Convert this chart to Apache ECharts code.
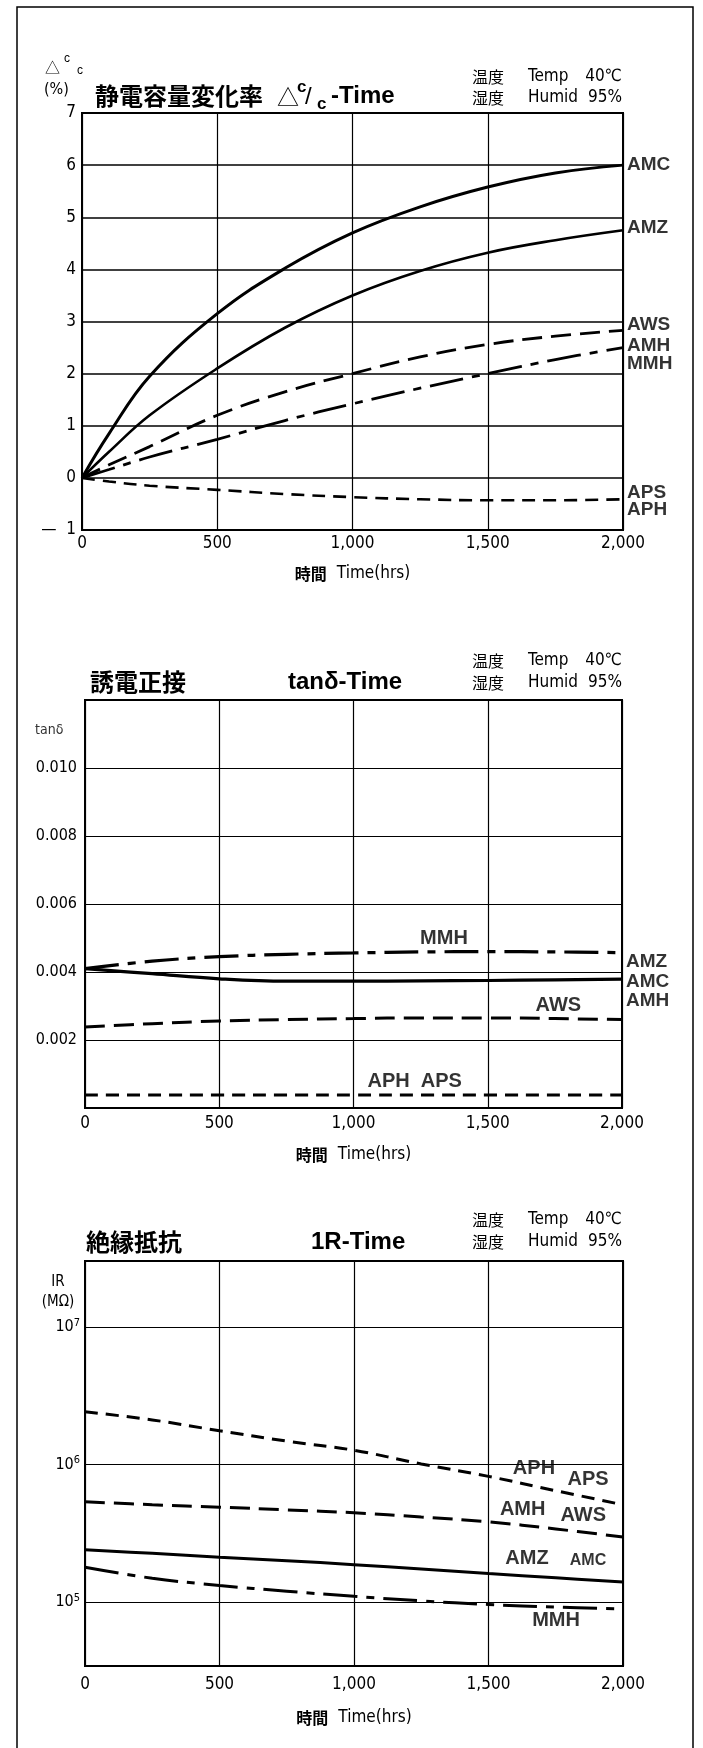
<!DOCTYPE html>
<html><head><meta charset="utf-8">
<script src="https://cdn.jsdelivr.net/npm/echarts@6/dist/echarts.min.js"></script>
<style>html,body{margin:0;padding:0;background:#fff}#c{width:703px;height:1748px}</style>
</head><body><div id="c"></div>
<script>
// ---------- shared ----------
const xTickLabels = ['0', '500', '1,000', '1,500', '2,000'];

// ---------- chart 1: capacitance change (%) ----------
const hours1 = [0, 100, 250, 500, 750, 1000, 1250, 1500, 1750, 2000];
const cap_AMC = [0, 0.85, 1.95, 3.15, 4.02, 4.7, 5.2, 5.58, 5.85, 6.0];
const cap_AMZ = [0, 0.5, 1.2, 2.1, 2.88, 3.5, 3.97, 4.32, 4.56, 4.75];
const cap_AWS = [0, 0.25, 0.6, 1.2, 1.65, 2.0, 2.32, 2.56, 2.72, 2.83];
const cap_AMH_MMH = [0, 0.16, 0.4, 0.74, 1.1, 1.42, 1.72, 2.0, 2.27, 2.5];
const cap_APS_APH = [0, -0.07, -0.15, -0.23, -0.31, -0.37, -0.41, -0.43, -0.43, -0.41];
const cap_labels = [[2000, 6.0, 'AMC'], [2000, 4.79, 'AMZ'], [2000, 2.94, 'AWS'], [2000, 2.53, 'AMH'],
                    [2000, 2.19, 'MMH'], [2000, -0.28, 'APS'], [2000, -0.62, 'APH']];

// ---------- chart 2: tan delta ----------
const hours2 = [0, 250, 500, 750, 1000, 1250, 1500, 1750, 2000];
const tan_MMH = [0.0041, 0.00432, 0.00445, 0.00452, 0.00456, 0.00459, 0.0046, 0.00459, 0.00457];
const tan_AMC = [0.0041, 0.00395, 0.0038, 0.00373, 0.00373, 0.00374, 0.00375, 0.00377, 0.00379];
const tan_AWS = [0.00238, 0.00248, 0.00256, 0.0026, 0.00263, 0.00265, 0.00265, 0.00263, 0.0026];
const tan_APH = [0.00038, 0.00038, 0.00038, 0.00038, 0.00038, 0.00038, 0.00038, 0.00038, 0.00038];
const tan_labelsRight = [[2000, 0.0043, 'AMZ'], [2000, 0.0037, 'AMC'], [2000, 0.00314, 'AMH']];
const tan_labelsIn = [[1337, 0.0050, 'MMH'], [1763, 0.00302, 'AWS'], [1228, 0.00078, 'APH  APS']];

// ---------- chart 3: insulation resistance (MΩ) ----------
const hours3 = [0, 250, 500, 750, 1000, 1250, 1500, 1750, 2000];
const ir_APH = [2.42e6, 2.11e6, 1.76e6, 1.48e6, 1.27e6, 1.01e6, 8.2e5, 6.45e5, 5.1e5];
const ir_AMH = [5.36e5, 5.1e5, 4.9e5, 4.68e5, 4.46e5, 4.15e5, 3.83e5, 3.4e5, 2.97e5];
const ir_AMZ = [2.4e5, 2.26e5, 2.12e5, 2.0e5, 1.87e5, 1.74e5, 1.61e5, 1.5e5, 1.4e5];
const ir_MMH = [1.79e5, 1.49e5, 1.32e5, 1.2e5, 1.1e5, 1.02e5, 9.6e4, 9.2e4, 8.9e4];
const ir_labels = [[1669, 9.35e5, 'APH'], [1870, 7.83e5, 'APS'], [1627, 4.68e5, 'AMH'], [1852, 4.27e5, 'AWS'],
                   [1643, 2.09e5, 'AMZ'], [1751, 7.3e4, 'MMH']];
const ir_labelsSmall = [[1870, 2.0e5, 'AMC']];

// ---------- styles ----------
const NARROW = '"Liberation Sans Narrow","DejaVu Sans Condensed","Liberation Sans",sans-serif';
const BOLD = '"Liberation Sans",Arial,sans-serif';
const CJK = '"Noto Sans CJK JP",sans-serif';
const DASH_LONG = [20, 9];
const DASH_SHORT = [13, 8];
const DASH_DOT = [34, 9, 8, 9];

function zip(xs, ys) { return xs.map((x, i) => [x, ys[i]]); }

function lineSeries(idx, xs, ys, dash, width) {
  return {
    type: 'line', xAxisIndex: idx, yAxisIndex: idx, data: zip(xs, ys),
    showSymbol: false, smooth: 0.4, silent: true,
    lineStyle: { color: '#000', width: width || 2.8, type: dash || 'solid' },
    z: 5
  };
}
function labelSeries(idx, data, pos, size, bg) {
  return {
    type: 'scatter', xAxisIndex: idx, yAxisIndex: idx, data: data, symbolSize: 0, silent: true,
    label: {
      show: true, position: pos, distance: 4, formatter: p => p.value[2],
      fontFamily: BOLD, fontWeight: 'bold', fontSize: size || 17, color: '#000',
      textBorderWidth: 0,
      backgroundColor: bg || 'transparent', padding: bg ? [0, 2] : 0
    },
    z: 10
  };
}
function xAxisCfg(idx, margin, nameGap) {
  return {
    type: 'value', gridIndex: idx, min: 0, max: 2000, interval: 500,
    axisLine: { show: false }, axisTick: { show: false },
    splitLine: { show: true, lineStyle: { color: '#000', width: 1.2 } },
    axisLabel: { margin: margin, fontFamily: NARROW, fontSize: 17, color: '#000',
                 formatter: v => xTickLabels[Math.round(v / 500)] },
    name: '{j|時間}   {e|Time(hrs)}', nameLocation: 'middle', nameGap: nameGap,
    nameTextStyle: { rich: { j: { fontFamily: CJK, fontSize: 16, fontWeight: 'bold', color: '#000' },
                              e: { fontFamily: NARROW, fontSize: 17, color: '#000' } } }
  };
}

const chart = echarts.init(document.getElementById('c'), null, { renderer: 'canvas' });

function txt(x, y, text, size, family, weight, align, color) {
  return { type: 'text', x: x, y: y, silent: true, z: 20,
    style: { text: text, fontSize: size, fontFamily: family, fontWeight: weight || 'normal',
             fill: color || '#000', align: align || 'left', verticalAlign: 'middle' } };
}
function header(y1, y2) {
  return [
    txt(472, y1, '温度', 16, CJK), txt(528, y1, 'Temp', 17, NARROW), txt(622, y1, '40℃', 17, NARROW, 'normal', 'right'),
    txt(472, y2, '湿度', 16, CJK), txt(528, y2, 'Humid', 17, NARROW), txt(622, y2, '95%', 17, NARROW, 'normal', 'right')
  ];
}

const graphics = [
  { type: 'rect', silent: true, z: 0, shape: { x: 17, y: 7, width: 676, height: 1800 },
    style: { fill: 'none', stroke: '#000', lineWidth: 1.5 } },
  // chart 1 titles
  txt(95, 96, '静電容量変化率', 24, CJK, 'bold'),
  txt(277, 97, '△', 22, CJK),
  txt(297, 87, 'c', 17, BOLD, 'bold'),
  txt(305, 97, '/', 24, BOLD),
  txt(317, 104, 'c', 17, BOLD, 'bold'),
  txt(331, 96, '-Time', 24, BOLD, 'bold'),
  txt(45, 67, '△', 15, CJK),
  txt(64, 59, 'c', 12, BOLD),
  txt(77, 71, 'c', 12, BOLD),
  txt(44, 90, '(%)', 16, NARROW),
  ...header(77, 98),
  // chart 2 titles
  txt(90, 682, '誘電正接', 24, CJK, 'bold'),
  txt(288, 682, 'tanδ-Time', 24, BOLD, 'bold'),
  txt(35, 730, 'tanδ', 14, NARROW, 'normal', 'left', '#333'),
  ...header(661, 683),
  // chart 3 titles
  txt(86, 1242, '絶縁抵抗', 24, CJK, 'bold'),
  txt(311, 1242, '1R-Time', 24, BOLD, 'bold'),
  txt(58, 1282, 'IR', 15, NARROW, 'normal', 'center'),
  txt(58, 1302, '(MΩ)', 15, NARROW, 'normal', 'center'),
  ...header(1220, 1242)
];

const option = {
  animation: false,
  backgroundColor: '#fff',
  grid: [
    { left: 82, top: 113, width: 541, height: 417, show: true, borderColor: '#000', borderWidth: 2, backgroundColor: 'transparent' },
    { left: 85, top: 700, width: 537, height: 408, show: true, borderColor: '#000', borderWidth: 2, backgroundColor: 'transparent' },
    { left: 85, top: 1261, width: 538, height: 405, show: true, borderColor: '#000', borderWidth: 2, backgroundColor: 'transparent' }
  ],
  xAxis: [xAxisCfg(0, 5, 35), xAxisCfg(1, 7, 38), xAxisCfg(2, 10, 43)],
  yAxis: [
    { type: 'value', gridIndex: 0, min: -1, max: 7, interval: 1,
      axisLine: { show: false }, axisTick: { show: false },
      splitLine: { show: true, lineStyle: { color: '#000', width: 1.6 } },
      axisLabel: { margin: 6, fontFamily: NARROW, fontSize: 17, color: '#000',
                   formatter: v => v < 0 ? '—  ' + Math.abs(v) : String(v) } },
    { type: 'value', gridIndex: 1, min: 0, max: 0.012, interval: 0.002,
      axisLine: { show: false }, axisTick: { show: false },
      splitLine: { show: true, lineStyle: { color: '#000', width: 1.2 } },
      axisLabel: { margin: 8, fontFamily: NARROW, fontSize: 16, color: '#000',
                   formatter: v => (v <= 0 || v >= 0.0119) ? '' : v.toFixed(3) } },
    { type: 'log', gridIndex: 2, logBase: 10, min: 34277, max: 3.02e7,
      axisLine: { show: false }, axisTick: { show: false },
      splitLine: { show: true, lineStyle: { color: '#000', width: 1.2 } },
      axisLabel: { margin: 5, color: '#000',
        formatter: v => { const e = Math.log10(v); return Math.abs(e - Math.round(e)) < 1e-6 ? '{b|10}{s|' + Math.round(e) + '}' : ''; },
        rich: { b: { fontFamily: NARROW, fontSize: 16, color: '#000' },
                s: { fontFamily: NARROW, fontSize: 11, color: '#000', verticalAlign: 'top', padding: [0, 0, 8, 0] } } } }
  ],
  series: [
    lineSeries(0, hours1, cap_AMC, 'solid', 3),
    lineSeries(0, hours1, cap_AMZ, 'solid', 2.6),
    lineSeries(0, hours1, cap_AWS, DASH_LONG, 2.8),
    lineSeries(0, hours1, cap_AMH_MMH, DASH_DOT, 2.8),
    lineSeries(0, hours1, cap_APS_APH, DASH_SHORT, 2.6),
    labelSeries(0, cap_labels, 'right', 19),

    lineSeries(1, hours2, tan_MMH, DASH_DOT, 3.2),
    lineSeries(1, hours2, tan_AMC, 'solid', 3.2),
    lineSeries(1, hours2, tan_AWS, DASH_LONG, 3),
    lineSeries(1, hours2, tan_APH, DASH_SHORT, 3),
    labelSeries(1, tan_labelsRight, 'right', 19),
    labelSeries(1, tan_labelsIn, 'inside', 20),

    lineSeries(2, hours3, ir_APH, DASH_SHORT, 3),
    lineSeries(2, hours3, ir_AMH, DASH_LONG, 3),
    lineSeries(2, hours3, ir_AMZ, 'solid', 3),
    lineSeries(2, hours3, ir_MMH, DASH_DOT, 3),
    labelSeries(2, ir_labels, 'inside', 20),
    labelSeries(2, ir_labelsSmall, 'inside', 16)
  ],
  graphic: { elements: graphics }
};
chart.setOption(option);
</script></body></html>
